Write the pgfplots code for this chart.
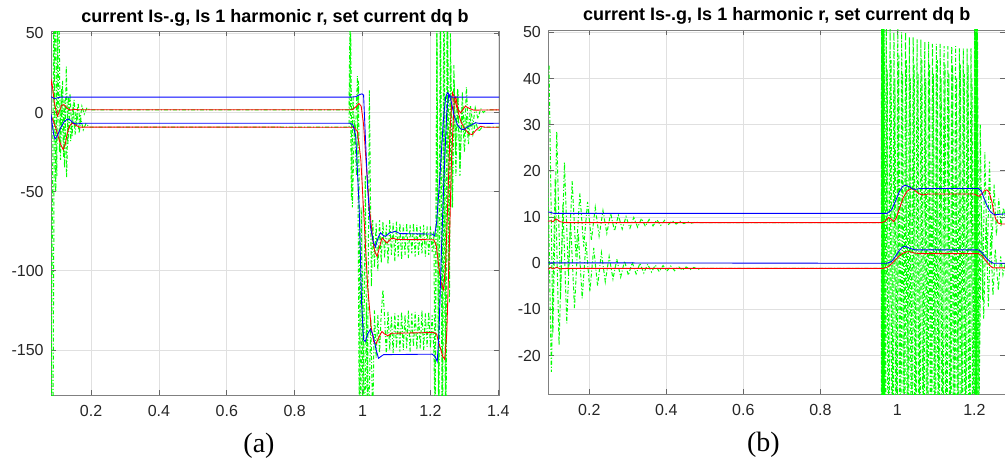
\documentclass[border=0pt]{standalone}
\usepackage{fontspec}
\setmainfont{Liberation Sans}
\newfontfamily\capfont{Liberation Serif}
\usepackage{pgfplots}
\pgfplotsset{compat=1.18}
\definecolor{mg}{rgb}{0,1,0}
\definecolor{mb}{rgb}{0,0,1}
\definecolor{mr}{rgb}{1,0,0}
\tikzset{
  gline/.style={mg, line width=0.75pt, dash pattern=on 3pt off 1.5pt on 0.8pt off 1.5pt},
  bline/.style={mb, line width=0.65pt},
  rline/.style={mr, line width=0.65pt}
}
\pgfplotsset{mstyle/.style={
  scale only axis,
  every axis title shift=0pt,
  axis line style={black!50, line width=0.6pt},
  grid=major, major grid style={black!12, line width=0.5pt},
  tick align=inside, major tick length=4pt,
  tick style={black!60, line width=0.6pt},
  ticklabel style={font=\fontsize{12}{14}\selectfont, text=black!85},
  /pgf/number format/assume math mode=true,
  title style={font=\fontsize{13.5}{16}\selectfont\bfseries, at={(0.5,1)}, anchor=base, yshift=6.75pt},
  xlabel style={font=\capfont\fontsize{21}{24}\selectfont, at={(0.5,0)}, anchor=base, yshift=-42.75pt},
  xticklabel style={yshift=-4pt},
  yticklabel style={xshift=-2pt},
  title={current Is-.g, Is 1 harmonic r, set current dq b},
}}
\begin{document}
\begin{tikzpicture}
\useasboundingbox (0pt,0pt) rectangle (753.75pt,346.5pt);
% ---------------- (a) ----------------
\begin{axis}[mstyle, at={(38.25pt,50.25pt)}, anchor=south west,
  width=336pt, height=273pt,
  xmin=0.082, xmax=1.402, ymin=-178.5, ymax=51.5,
  xtick={0.2,0.4,0.6,0.8,1,1.2,1.4}, ytick={-150,-100,-50,0,50},
  xlabel={(a)}, xlabel style={xshift=-12pt}]
\addplot[gline] coordinates {(0.082,-60)(0.086,-300)(0.094,120)(0.099,-40)(0.104,100)(0.11,-30)(0.116,20)(0.122,-35)(0.127,29)(0.132,-20)(0.138,12)(0.144,-15)(0.15,8)(0.156,-8)(0.162,6)(0.167,-6)(0.173,4)(0.18,-1)(0.188,3)(0.196,1.7)(0.96,1.7)(0.963,60)(0.967,-55)(0.972,10)(0.978,-20)(0.985,23)(0.99,-190)(0.996,-60)(1.002,-200)(1.008,-40)(1.014,-200)(1.02,14)(1.026,-110)(1.03,-68)(1.035,-98)(1.04,-70)(1.045,-100)(1.05,-68)(1.055,-95)(1.06,-69)(1.065,-92)(1.07,-71)(1.075,-96)(1.08,-68)(1.085,-90)(1.09,-70)(1.095,-94)(1.1,-69)(1.105,-91)(1.11,-70)(1.115,-93)(1.12,-71)(1.125,-90)(1.13,-70)(1.135,-92)(1.14,-71)(1.145,-89)(1.15,-70)(1.155,-91)(1.16,-71)(1.165,-90)(1.17,-72)(1.175,-89)(1.18,-71)(1.185,-91)(1.19,-72)(1.195,-90)(1.2,-72)(1.205,-88)(1.21,-75)(1.214,-190)(1.219,60)(1.224,-190)(1.229,60)(1.234,-190)(1.239,60)(1.244,-190)(1.249,60)(1.254,-100)(1.259,50)(1.264,-60)(1.269,30)(1.274,-25)(1.28,15)(1.287,-40)(1.294,13)(1.3,-15)(1.306,16)(1.312,-14)(1.318,4)(1.325,-8)(1.332,3)(1.34,-4)(1.348,2.5)(1.356,0)(1.365,1.7)(1.403,1.7)};
\addplot[gline] coordinates {(0.082,-200)(0.09,60)(0.096,-50)(0.101,60)(0.107,-25)(0.113,15)(0.119,-28)(0.123,8)(0.128,-41)(0.133,10)(0.14,-18)(0.147,5)(0.153,-14)(0.159,0)(0.165,-13)(0.17,-4)(0.177,-11)(0.185,-7)(0.195,-9.3)(0.96,-9.3)(0.965,50)(0.97,-60)(0.976,-5)(0.982,-40)(0.988,20)(0.994,-200)(1.0,-100)(1.006,-200)(1.012,-120)(1.018,-200)(1.024,-130)(1.03,-195)(1.035,-125)(1.04,-155)(1.045,-128)(1.05,-152)(1.055,-127)(1.06,-112)(1.065,-130)(1.07,-153)(1.075,-126)(1.08,-150)(1.085,-129)(1.09,-152)(1.095,-127)(1.1,-149)(1.105,-128)(1.11,-151)(1.115,-126)(1.12,-150)(1.125,-128)(1.13,-149)(1.135,-125)(1.14,-151)(1.145,-127)(1.15,-148)(1.155,-126)(1.16,-150)(1.165,-128)(1.17,-149)(1.175,-125)(1.18,-150)(1.185,-127)(1.19,-148)(1.195,-126)(1.2,-149)(1.205,-128)(1.21,-150)(1.214,-200)(1.219,50)(1.225,-200)(1.23,60)(1.236,-200)(1.241,60)(1.246,-200)(1.251,60)(1.256,-120)(1.26,30)(1.265,-60)(1.27,20)(1.275,-40)(1.281,14)(1.287,-35)(1.293,5)(1.3,-25)(1.306,-2)(1.312,-20)(1.318,-5)(1.325,-14)(1.333,-6)(1.342,-12)(1.352,-9.3)(1.403,-9.3)};
\addplot[rline] coordinates {(0.082,17)(0.084,19.7)(0.087,15)(0.092,6)(0.097,1)(0.101,-2.3)(0.107,1)(0.113,4.5)(0.12,5)(0.13,2.5)(0.14,1.5)(0.15,2)(0.165,1.7)(0.969,1.7)(0.98,3.5)(0.989,5.7)(0.996,4)(1.003,-7.6)(1.01,-30)(1.02,-60)(1.03,-80)(1.036,-88)(1.043,-91)(1.05,-85)(1.057,-79.3)(1.065,-81)(1.072,-82.5)(1.08,-80.5)(1.087,-79.3)(1.1,-80.2)(1.21,-80.4)(1.217,-84)(1.225,-98)(1.232,-108)(1.239,-112)(1.245,-95)(1.252,-50)(1.258,-10)(1.265,12.5)(1.27,10)(1.278,3)(1.289,-0.2)(1.296,2)(1.303,4)(1.315,2.5)(1.328,1.5)(1.403,1.7)};
\addplot[rline] coordinates {(0.082,-2)(0.088,-5)(0.095,-9)(0.103,-15)(0.11,-20)(0.118,-23.4)(0.124,-20)(0.13,-13)(0.138,-8)(0.145,-6.5)(0.155,-8)(0.165,-9.2)(0.975,-9.3)(0.985,-12)(0.995,-30)(1.005,-70)(1.015,-110)(1.025,-135)(1.033,-145)(1.04,-146)(1.048,-142)(1.057,-138.4)(1.065,-140)(1.075,-141)(1.085,-139.5)(1.21,-139)(1.218,-140)(1.228,-148)(1.236,-154)(1.242,-156)(1.248,-140)(1.255,-90)(1.262,-30)(1.27,8)(1.275,10)(1.282,0)(1.29,-6)(1.3,-10)(1.313,-13.5)(1.323,-13.9)(1.335,-11)(1.348,-8.7)(1.36,-9.3)(1.403,-9.3)};
\addplot[bline] coordinates {(0.082,10)(0.086,9.5)(0.092,8.8)(0.1,9.2)(0.11,9.7)(0.965,9.7)(0.98,10)(0.99,11.2)(0.998,11.8)(1.003,11)(1.008,-14)(1.015,-48)(1.023,-72)(1.032,-82)(1.038,-85)(1.046,-79)(1.053,-76)(1.06,-77.5)(1.067,-78.3)(1.08,-76)(1.097,-75.1)(1.11,-76.5)(1.205,-76.8)(1.212,-78)(1.218,-70)(1.228,-40)(1.238,-5)(1.245,10)(1.25,12.5)(1.256,11)(1.262,9.7)(1.403,9.7)};
\addplot[bline] coordinates {(0.082,-1)(0.086,-8)(0.09,-14)(0.094,-16.7)(0.1,-15)(0.11,-10)(0.12,-6)(0.131,-4)(0.14,-5)(0.15,-7)(0.16,-7.2)(0.175,-6.8)(0.964,-6.8)(0.972,-8)(0.98,-15)(0.99,-60)(0.997,-120)(1.003,-143.7)(1.008,-144.7)(1.015,-140)(1.023,-136.9)(1.03,-140)(1.04,-150)(1.047,-155.3)(1.055,-154)(1.062,-153)(1.205,-152.7)(1.213,-154)(1.22,-157.4)(1.225,-140)(1.232,-90)(1.24,-40)(1.248,0)(1.254,11.5)(1.26,8)(1.27,-2)(1.28,-8)(1.29,-10.5)(1.298,-10.8)(1.31,-9)(1.333,-6.5)(1.345,-6.9)(1.403,-6.8)};
\end{axis}
% ---------------- (b) ----------------
\begin{axis}[mstyle, at={(411.2pt,51pt)}, anchor=south west,
  width=342.75pt, height=273pt,
  xmin=0.0935, xmax=1.28, ymin=-28.3, ymax=50.5,
  xtick={0.2,0.4,0.6,0.8,1,1.2}, ytick={-20,-10,0,10,20,30,40,50},
  xlabel={(b)}, xlabel style={xshift=-10pt}]
\addplot[gline] coordinates {(0.0955,42.8)(0.1055,-15.2)(0.1155,28.5)(0.1255,-7.2)(0.1355,21.8)(0.1455,-2)(0.1555,17.8)(0.1655,1.4)(0.1755,15.1)(0.1855,3.6)(0.1955,13.3)(0.2055,5)(0.2155,12.1)(0.2255,5.9)(0.2355,11.4)(0.2455,6.5)(0.2555,10.8)(0.2655,7)(0.2755,10.4)(0.2855,7.4)(0.2955,10.1)(0.3055,7.6)(0.3155,9.9)(0.3255,7.8)(0.3355,9.7)(0.3455,8)(0.3555,9.5)(0.3655,8.1)(0.3755,9.4)(0.3855,8.2)(0.3955,9.3)(0.4055,8.4)(0.4155,9.2)(0.4255,8.5)(0.4355,9.1)(0.4455,8.6)(0.4555,9)(0.4655,8.7)(0.4755,8.9)(0.49,8.8)(0.958,8.8)(0.959,55)(0.960,-50)(0.961,55)(0.962,-50)(0.963,55)(0.964,-50)(0.965,55)(0.966,-50)(0.971,51)(0.976,-50)(0.981,52)(0.986,-50)(0.991,50)(0.996,-50)(1.001,51)(1.006,-50)(1.011,50)(1.016,-50)(1.021,50)(1.026,-50)(1.031,49)(1.036,-50)(1.041,49)(1.046,-50)(1.051,48.5)(1.056,-50)(1.061,48.5)(1.066,-50)(1.071,48)(1.076,-50)(1.081,48)(1.086,-50)(1.091,47.5)(1.096,-50)(1.101,47.5)(1.106,-50)(1.111,47.5)(1.116,-50)(1.121,47)(1.126,-50)(1.131,47)(1.136,-50)(1.141,47)(1.146,-50)(1.151,47)(1.156,-50)(1.161,46.5)(1.166,-50)(1.171,46.5)(1.176,-50)(1.181,46.5)(1.186,-50)(1.191,46.5)(1.196,-50)(1.201,55)(1.202,-50)(1.203,55)(1.204,-50)(1.205,55)(1.206,-50)(1.207,55)(1.21,-45)(1.215,30)(1.221,-8)(1.227,24)(1.233,0)(1.239,22)(1.245,3)(1.251,17)(1.257,6)(1.263,14)(1.269,8)(1.275,12)(1.28,10)};
\addplot[gline] coordinates {(0.0915,24)(0.1015,-23.5)(0.1115,18.4)(0.1215,-17.7)(0.1315,12.9)(0.1415,-13)(0.1515,8.9)(0.1615,-9.7)(0.1715,6.4)(0.1815,-7.6)(0.1915,4.6)(0.2015,-6.1)(0.2115,3.3)(0.2215,-4.9)(0.2315,2.3)(0.2415,-4)(0.2515,1.5)(0.2615,-3.4)(0.2715,0.9)(0.2815,-3)(0.2915,0.5)(0.3015,-2.6)(0.3115,0.2)(0.3215,-2.3)(0.3315,0)(0.3415,-2.1)(0.3515,-0.2)(0.3615,-1.9)(0.3715,-0.4)(0.3815,-1.8)(0.3915,-0.5)(0.4015,-1.7)(0.4115,-0.6)(0.4215,-1.6)(0.4315,-0.7)(0.4415,-1.5)(0.4515,-0.8)(0.4615,-1.4)(0.4715,-0.9)(0.4815,-1.3)(0.495,-1.1)(0.958,-1.1)(0.9585,-50)(0.9595,55)(0.9605,-50)(0.9615,55)(0.9625,-50)(0.9635,55)(0.9645,-50)(0.9655,55)(0.9685,-50)(0.9735,42)(0.9785,-50)(0.9835,44)(0.9885,-50)(0.9935,40)(0.9985,-50)(1.0035,45)(1.0085,-50)(1.0135,41)(1.0185,-50)(1.0235,44)(1.0285,-50)(1.0335,40)(1.0385,-50)(1.0435,43)(1.0485,-50)(1.0535,41)(1.0585,-50)(1.0635,44)(1.0685,-50)(1.0735,40)(1.0785,-50)(1.0835,43)(1.0885,-50)(1.0935,41)(1.0985,-50)(1.1035,44)(1.1085,-50)(1.1135,40)(1.1185,-50)(1.1235,43)(1.1285,-50)(1.1335,41)(1.1385,-50)(1.1435,43)(1.1485,-50)(1.1535,40)(1.1585,-50)(1.1635,43)(1.1685,-50)(1.1735,41)(1.1785,-50)(1.1835,43)(1.1885,-50)(1.1935,40)(1.1985,-50)(1.2015,55)(1.2025,-50)(1.2035,55)(1.2045,-50)(1.2055,55)(1.2065,-50)(1.2075,55)(1.212,-30)(1.218,12)(1.224,-12)(1.23,9)(1.236,-9.4)(1.242,6)(1.248,-7)(1.254,3)(1.262,-5.8)(1.268,1.5)(1.274,-2.5)(1.28,0)};
\addplot[rline] coordinates {(0.0935,9.1)(0.1,9.2)(0.106,9.0)(0.113,9.6)(0.118,9.4)(0.124,9.0)(0.13,8.9)(0.14,8.8)(0.96,8.8)(0.968,9.1)(0.977,9.9)(0.984,9.6)(0.99,9.0)(0.997,9.8)(1.005,11.8)(1.015,14.2)(1.025,15.6)(1.037,16.2)(1.045,15.8)(1.055,15.1)(1.067,14.8)(1.08,15.0)(1.2,15.0)(1.206,14.7)(1.212,14.5)(1.22,15.1)(1.226,15.7)(1.232,15.9)(1.238,15.4)(1.245,13.4)(1.25,11.2)(1.255,9.6)(1.262,8.7)(1.27,8.5)(1.28,8.5)};
\addplot[rline] coordinates {(0.0935,-1.3)(0.1,-0.9)(0.106,-1.2)(0.115,-0.9)(0.125,-1.2)(0.14,-1.1)(0.963,-1.1)(0.975,-0.8)(0.985,-0.1)(0.995,0.8)(1.005,1.6)(1.015,2.2)(1.025,2.5)(1.033,2.5)(1.045,2.2)(1.06,2.1)(1.21,2.1)(1.22,1.6)(1.23,0.5)(1.24,-0.5)(1.248,-1.0)(1.28,-1.0)};
\addplot[bline] coordinates {(0.0935,11.1)(0.1,11)(0.108,10.8)(0.973,10.8)(0.985,11.6)(0.995,13.5)(1.005,15.5)(1.013,16.6)(1.02,16.9)(1.03,16.6)(1.04,16.1)(1.046,16.0)(1.06,16.2)(1.21,16.2)(1.218,15.6)(1.226,13.8)(1.234,12.2)(1.241,11.2)(1.248,10.7)(1.254,10.5)(1.265,10.6)(1.28,10.7)};
\addplot[bline] coordinates {(0.0935,0.1)(0.973,0)(0.985,0.4)(0.995,1.5)(1.005,2.8)(1.013,3.5)(1.02,3.7)(1.03,3.3)(1.046,2.9)(1.21,2.9)(1.22,2.3)(1.23,1.2)(1.24,0.4)(1.249,0)(1.28,0)};
\end{axis}
\end{tikzpicture}
\end{document}
